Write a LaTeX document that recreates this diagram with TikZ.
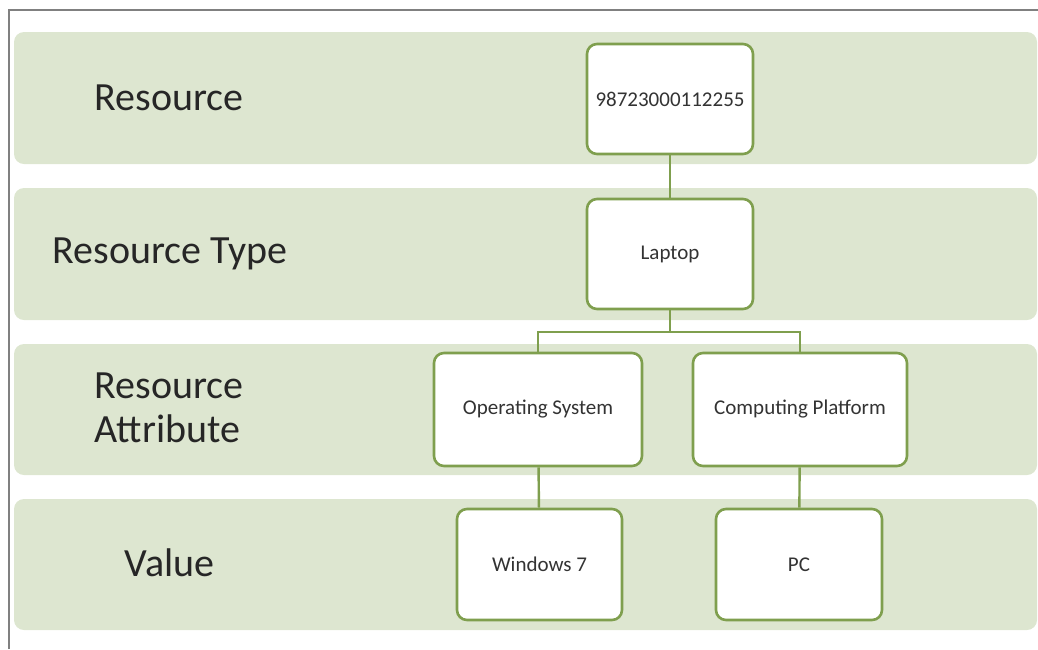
\documentclass[tikz,border=0pt]{standalone}
\usepackage{fontspec}
\setmainfont{Carlito}
\usetikzlibrary{positioning}
\definecolor{bandgreen}{HTML}{DDE6D0}
\definecolor{linegreen}{HTML}{7F9F4E}
\definecolor{framegray}{HTML}{808080}

\begin{document}
\begin{tikzpicture}[x=1pt, y=-1pt,
	band/.style={fill=bandgreen, rounded corners=10pt},
	item/.style={draw=linegreen, line width=2.6pt, fill=white, rounded corners=10pt,
		minimum width=166pt, minimum height=110pt, font=\fontsize{21}{25}\selectfont, text=black!80},
	level/.style={font=\fontsize{40}{48}\selectfont, text=black!85, align=left},
	link/.style={draw=linegreen, line width=2.4pt}]
	\useasboundingbox (0,0) rectangle (1038,649);
	\draw [framegray, line width=2.5pt] (9,649) -- (9,10) -- (1038,10);

	\fill [band] (14,32) rectangle (1037,164);
	\fill [band] (14,188) rectangle (1037,320);
	\fill [band] (14,344) rectangle (1037,475);
	\fill [band] (14,499) rectangle (1037,630);

	\node [level, anchor=west] (L1) at (91,98) {Resource};
	\node [level, anchor=west] (L2) at (49,254) {Resource Type};
	\node [level, anchor=west] (L3) at (91,408) {Resource\\[-4pt]Attribute};
	\node [level, anchor=west] (L4) at (121,563) {Value};

	\node [item] (res) at (670,99) {98723000112255};
	\node [item] (lap) at (670,254) {Laptop};
	\node [item, minimum width=208pt, minimum height=113pt] (os) at (538,409.5) {Operating System};
	\node [item, minimum width=214pt, minimum height=113pt] (cp) at (800,409.5) {Computing Platform};
	\node [item, minimum width=165pt, minimum height=111pt] (win) at (539.5,564.5) {Windows 7};
	\node [item, minimum width=166pt, minimum height=111pt] (pc) at (799,564.5) {PC};

	\coordinate (split) at (670,332);
	\draw [link] (res) -- (lap);
	\draw [link] (lap) -- (split);
	\draw [link] (os.north) |- (split) -| (cp.north);
	\draw [link] (os) -- (win);
	\draw [link] (cp) -- (pc);
\end{tikzpicture}
\end{document}
